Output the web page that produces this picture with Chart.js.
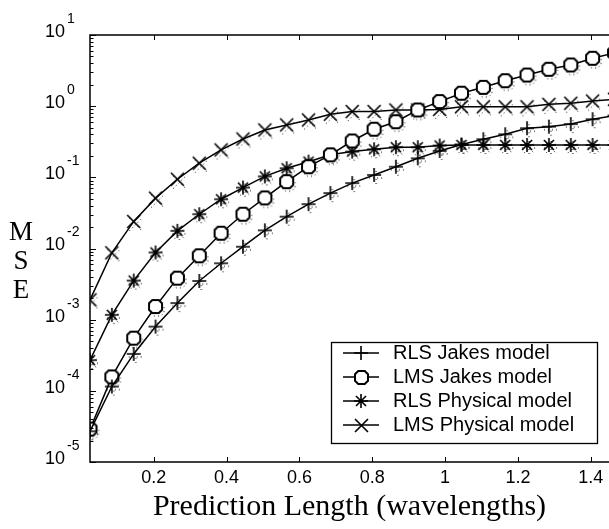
<!DOCTYPE html>
<html>
<head>
<meta charset="utf-8">
<script src="https://cdn.jsdelivr.net/npm/chart.js@4.4.0/dist/chart.umd.min.js"></script>
<style>
  html, body { margin: 0; padding: 0; background: #fff; }
</style>
</head>
<body>
<canvas id="canvas" width="609" height="529"></canvas>
<script>
// prediction length (wavelengths), one sample every 0.06
const predLength = [0.025, 0.085, 0.145, 0.205, 0.265, 0.325, 0.385, 0.445, 0.505, 0.565, 0.625, 0.685,
  0.745, 0.805, 0.865, 0.925, 0.985, 1.045, 1.105, 1.165, 1.225, 1.285, 1.345, 1.405, 1.465];

const rlsJakes = [2.7e-5, 1.15e-4, 3.3e-4, 8.0e-4, 1.71e-3, 3.5e-3, 6.2e-3, 0.0106, 0.018, 0.028, 0.042, 0.06,
  0.083, 0.108, 0.141, 0.185, 0.235, 0.29, 0.343, 0.403, 0.49, 0.515, 0.56, 0.655, 0.74];
const lmsJakes = [2.9e-5, 1.57e-4, 5.5e-4, 1.53e-3, 3.83e-3, 7.9e-3, 0.0164, 0.0303, 0.0514, 0.087, 0.141, 0.207,
  0.324, 0.474, 0.605, 0.885, 1.16, 1.52, 1.84, 2.28, 2.74, 3.3, 3.79, 4.71, 5.6];
const rlsPhysical = [2.7e-4, 1.17e-3, 3.54e-3, 8.8e-3, 0.0177, 0.0303, 0.0492, 0.0718, 0.103, 0.134, 0.166, 0.207,
  0.23, 0.248, 0.265, 0.265, 0.28, 0.285, 0.285, 0.285, 0.285, 0.285, 0.285, 0.285, 0.285];
const lmsPhysical = [1.9e-3, 8.7e-3, 0.024, 0.051, 0.094, 0.158, 0.243, 0.346, 0.463, 0.545, 0.64, 0.77,
  0.84, 0.84, 0.885, 0.885, 0.9, 0.98, 0.98, 0.98, 0.98, 1.06, 1.1, 1.18, 1.25];

const seriesNames = ['RLS Jakes model', 'LMS Jakes model', 'RLS Physical model', 'LMS Physical model'];

const xTicks = [0.2, 0.4, 0.6, 0.8, 1, 1.2, 1.4];
const xTickLabels = ['0.2', '0.4', '0.6', '0.8', '1', '1.2', '1.4'];
const yExponents = [1, 0, -1, -2, -3, -4, -5];

// marker outlines, drawn into small canvases so they can be used as point styles
function shapePath(g, kind, mx, my, r) {
  g.beginPath();
  if (kind === 'plus' || kind === 'star') {
    g.moveTo(mx - r, my); g.lineTo(mx + r, my);
    g.moveTo(mx, my - r); g.lineTo(mx, my + r);
  }
  if (kind === 'x' || kind === 'star') {
    const d = kind === 'star' ? r * 0.72 : r;
    g.moveTo(mx - d, my - d); g.lineTo(mx + d, my + d);
    g.moveTo(mx - d, my + d); g.lineTo(mx + d, my - d);
  }
  if (kind === 'oct') {
    const k = r * 0.5;
    g.moveTo(mx - k, my - r); g.lineTo(mx + k, my - r); g.lineTo(mx + r, my - k); g.lineTo(mx + r, my + k);
    g.lineTo(mx + k, my + r); g.lineTo(mx - k, my + r); g.lineTo(mx - r, my + k); g.lineTo(mx - r, my - k);
    g.closePath();
  }
}

function makeMarker(kind, r) {
  const size = 2 * r + 4;
  const c = document.createElement('canvas');
  c.width = size; c.height = size;
  const g = c.getContext('2d');
  shapePath(g, kind, size / 2, size / 2, r);
  if (kind === 'oct') { g.fillStyle = '#fff'; g.fill(); }
  g.strokeStyle = '#000';
  g.lineWidth = kind === 'oct' ? 2 : 1.6;
  g.stroke();
  return c;
}

// sparse dotted copy of the marker, shifted down-right as in the print
function makeEcho(kind, r) {
  const size = 2 * r + 14;
  const c = document.createElement('canvas');
  c.width = size; c.height = size;
  const g = c.getContext('2d');
  shapePath(g, kind, size / 2 + 2, size / 2 + 3, r);
  g.setLineDash([1, 3]);
  g.strokeStyle = '#000';
  g.lineWidth = 1;
  g.stroke();
  return c;
}

const markerKinds = ['plus', 'oct', 'star', 'x'];
const markerSizes = [7, 6.5, 7, 6.5];
const markerImgs = markerKinds.map((k, i) => makeMarker(k, markerSizes[i]));
const echoImgs = markerKinds.map((k, i) => makeEcho(k, markerSizes[i]));

function pts(vals) {
  return vals.map((v, i) => ({ x: predLength[i], y: v }));
}

const allSeries = [rlsJakes, lmsJakes, rlsPhysical, lmsPhysical];
const datasets = [];
allSeries.forEach((vals, i) => {
  datasets.push({
    label: seriesNames[i] + ' dots',
    data: pts(vals),
    showLine: false,
    pointStyle: echoImgs[i],
    pointRadius: 8,
    clip: 0,
    order: 2,
  });
  datasets.push({
    label: seriesNames[i],
    data: pts(vals),
    borderColor: '#000',
    borderWidth: 1.5,
    pointStyle: markerImgs[i],
    pointRadius: 8,
    tension: 0,
    fill: false,
    clip: 0,
    order: 1,
  });
});

const decor = {
  id: 'decor',
  afterDraw(chart) {
    const { ctx, chartArea: a, scales: { x, y } } = chart;
    ctx.save();
    ctx.strokeStyle = '#000';

    // frame (right side is cut off in the original)
    ctx.lineWidth = 1.5;
    ctx.beginPath();
    ctx.moveTo(a.right + 2, a.top);
    ctx.lineTo(a.left, a.top);
    ctx.lineTo(a.left, a.bottom);
    ctx.lineTo(a.right + 2, a.bottom);
    ctx.stroke();

    // inward ticks
    ctx.lineWidth = 1;
    ctx.beginPath();
    xTicks.forEach(v => {
      const px = Math.round(x.getPixelForValue(v)) + 0.5;
      ctx.moveTo(px, a.bottom); ctx.lineTo(px, a.bottom - 5);
      ctx.moveTo(px, a.top); ctx.lineTo(px, a.top + 5);
    });
    y.ticks.forEach(t => {
      const py = Math.round(y.getPixelForValue(t.value)) + 0.5;
      const len = t.major ? 6 : 3.5;
      ctx.moveTo(a.left, py); ctx.lineTo(a.left + len, py);
    });
    ctx.stroke();

    // y tick labels 10^n
    ctx.fillStyle = '#000';
    yExponents.forEach(e => {
      const py = y.getPixelForValue(Math.pow(10, e));
      ctx.font = '18px "Liberation Sans", Arial, sans-serif';
      ctx.textAlign = 'right';
      ctx.textBaseline = 'middle';
      ctx.fillText('10', 65, py - 3);
      ctx.font = '14px "Liberation Sans", Arial, sans-serif';
      ctx.textAlign = 'left';
      ctx.fillText(e < 0 ? '-' + (-e) : String(e), 67, py - 16);
    });

    // stacked y title
    ctx.font = '27px "Liberation Serif", "Times New Roman", serif';
    ctx.textAlign = 'center';
    ctx.textBaseline = 'middle';
    ['M', 'S', 'E'].forEach((ch, i) => ctx.fillText(ch, 21, 233 + i * 29));

    // legend box
    const lx = 331, ly = 342, lw = 266, lh = 101;
    ctx.fillStyle = '#fff';
    ctx.fillRect(lx, ly, lw, lh);
    ctx.lineWidth = 1.3;
    ctx.strokeRect(lx + 0.5, ly + 0.5, lw, lh);
    seriesNames.forEach((name, i) => {
      const ry = 353 + i * 24;
      ctx.lineWidth = 1.5;
      ctx.strokeStyle = '#000';
      ctx.beginPath();
      ctx.moveTo(343, ry); ctx.lineTo(379, ry);
      ctx.stroke();
      const img = markerImgs[i];
      ctx.drawImage(img, Math.round(361 - img.width / 2), Math.round(ry - img.height / 2));
      ctx.fillStyle = '#000';
      ctx.font = '20px "Liberation Sans", Arial, sans-serif';
      ctx.textAlign = 'left';
      ctx.textBaseline = 'middle';
      ctx.fillText(name, 393, ry);
    });
    ctx.restore();
  }
};

const chart = new Chart(document.getElementById('canvas'), {
  type: 'line',
  data: { datasets: datasets },
  options: {
    responsive: false,
    devicePixelRatio: 1,
    animation: false,
    layout: { autoPadding: false, padding: { left: 0, top: 35, right: 0, bottom: 0 } },
    plugins: { legend: { display: false }, tooltip: { enabled: false } },
    scales: {
      x: {
        type: 'linear',
        min: predLength[0],
        max: 1.45,
        grid: { display: false, drawTicks: false },
        border: { display: false },
        afterBuildTicks: s => { s.ticks = xTicks.map(v => ({ value: v })); },
        afterFit: s => { s.height = 67; s.paddingLeft = 0; s.paddingRight = 0; },
        ticks: {
          color: '#000',
          padding: 5,
          maxRotation: 0,
          autoSkip: false,
          font: { family: '"Liberation Sans", Arial, sans-serif', size: 18 },
          callback: (v, i) => xTickLabels[i],
        },
        title: {
          display: true,
          text: 'Prediction Length (wavelengths)',
          color: '#000',
          font: { family: '"Liberation Serif", "Times New Roman", serif', size: 30 },
          padding: { top: 0, bottom: 4 },
        },
      },
      y: {
        type: 'logarithmic',
        min: 1e-5,
        max: 10,
        grid: { display: false, drawTicks: false },
        border: { display: false },
        afterBuildTicks: s => {
          const t = [];
          yExponents.forEach(e => {
            for (let m = 1; m <= 9; m++) {
              const v = m * Math.pow(10, e);
              if (v >= 1e-5 && v <= 10) t.push({ value: v, major: m === 1 });
            }
          });
          s.ticks = t;
        },
        afterFit: s => { s.width = 90; s.paddingTop = 0; s.paddingBottom = 0; },
        ticks: { display: false },
      },
    },
  },
  plugins: [decor],
});
</script>
</body>
</html>
